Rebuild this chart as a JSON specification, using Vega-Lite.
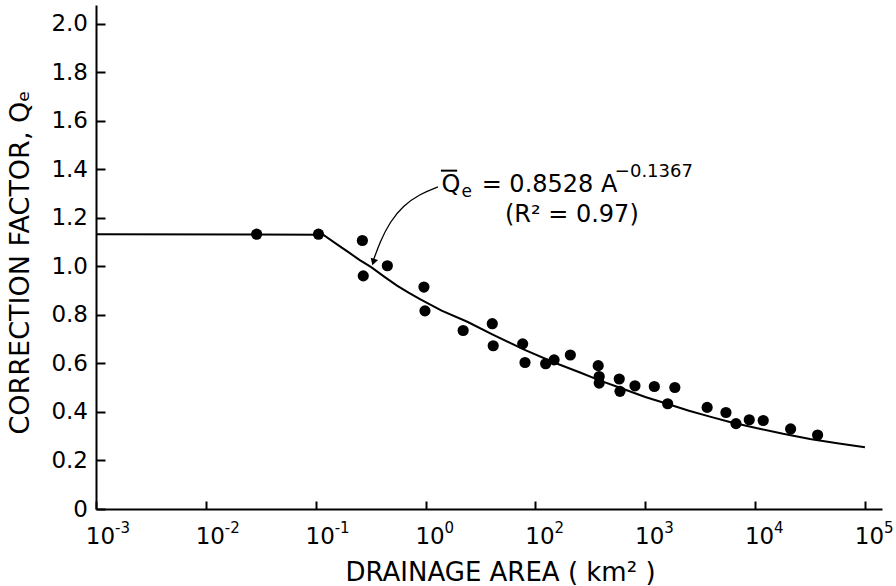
{
  "$schema": "https://vega.github.io/schema/vega-lite/v6.json",
  "width": 786,
  "height": 504,
  "autosize": {"type": "none"},
  "padding": {"left": 96, "top": 5, "right": 14, "bottom": 77},
  "background": "white",
  "config": {
    "view": {"stroke": null},
    "axis": {
      "grid": false,
      "domainColor": "black",
      "domainWidth": 2,
      "tickColor": "black",
      "tickWidth": 2,
      "labelColor": "black",
      "titleColor": "black",
      "labelFont": "DejaVu Sans",
      "titleFont": "DejaVu Sans",
      "titleFontWeight": "normal"
    }
  },
  "datasets": {
    "obs": [
      {"area": 0.029, "qe": 1.133}, {"area": 0.106, "qe": 1.133}, {"area": 0.266, "qe": 1.107},
      {"area": 0.271, "qe": 0.961}, {"area": 0.449, "qe": 1.003}, {"area": 0.967, "qe": 0.915},
      {"area": 0.988, "qe": 0.817}, {"area": 2.2, "qe": 0.736}, {"area": 4.05, "qe": 0.764},
      {"area": 4.13, "qe": 0.673}, {"area": 7.66, "qe": 0.681}, {"area": 8.04, "qe": 0.604},
      {"area": 12.4, "qe": 0.599}, {"area": 14.8, "qe": 0.615}, {"area": 20.8, "qe": 0.635},
      {"area": 37.3, "qe": 0.591}, {"area": 38.1, "qe": 0.546}, {"area": 38.1, "qe": 0.519},
      {"area": 58.0, "qe": 0.536}, {"area": 58.9, "qe": 0.485}, {"area": 80.6, "qe": 0.508},
      {"area": 121, "qe": 0.505}, {"area": 186, "qe": 0.501}, {"area": 160, "qe": 0.434},
      {"area": 366, "qe": 0.419}, {"area": 543, "qe": 0.398}, {"area": 670, "qe": 0.352},
      {"area": 885, "qe": 0.368}, {"area": 1186, "qe": 0.365}, {"area": 2106, "qe": 0.33},
      {"area": 3708, "qe": 0.305}
    ],
    "fit": [
      {"area": 0.001, "qe": 1.133}, {"area": 0.117, "qe": 1.131}, {"area": 0.16, "qe": 1.088},
      {"area": 0.2, "qe": 1.058}, {"area": 0.25, "qe": 1.027}, {"area": 0.32, "qe": 0.997},
      {"area": 0.42, "qe": 0.958}, {"area": 0.55, "qe": 0.921}, {"area": 0.7, "qe": 0.892},
      {"area": 0.89, "qe": 0.865}, {"area": 1.4, "qe": 0.818}, {"area": 2.4, "qe": 0.772},
      {"area": 4.05, "qe": 0.72}, {"area": 8, "qe": 0.656}, {"area": 14.6, "qe": 0.605},
      {"area": 25.5, "qe": 0.563}, {"area": 40, "qe": 0.527}, {"area": 58.9, "qe": 0.5},
      {"area": 100, "qe": 0.462}, {"area": 158, "qe": 0.434}, {"area": 250, "qe": 0.405},
      {"area": 388, "qe": 0.381}, {"area": 600, "qe": 0.358}, {"area": 1000, "qe": 0.335},
      {"area": 1800, "qe": 0.31}, {"area": 3160, "qe": 0.289}, {"area": 5600, "qe": 0.271},
      {"area": 10000, "qe": 0.255}
    ],
    "arrow": [
      {"step": 1, "area": 1.297, "qe": 1.328}, {"step": 2, "area": 0.89, "qe": 1.299},
      {"step": 3, "area": 0.623, "qe": 1.25}, {"step": 4, "area": 0.4745, "qe": 1.184},
      {"step": 5, "area": 0.3847, "qe": 1.102}, {"step": 6, "area": 0.3322, "qe": 1.02}
    ],
    "exponents": [
      {"area": 0.001, "exp": "-3"}, {"area": 0.01, "exp": "-2"}, {"area": 0.1, "exp": "-1"},
      {"area": 1, "exp": "0"}, {"area": 10, "exp": "2"}, {"area": 100, "exp": "3"},
      {"area": 1000, "exp": "4"}, {"area": 10000, "exp": "5"}
    ]
  },
  "layer": [
    {
      "data": {"name": "fit"},
      "mark": {"type": "line", "color": "black", "strokeWidth": 2},
      "encoding": {
        "x": {
          "field": "area", "type": "quantitative",
          "scale": {"type": "log", "domain": [0.001, 14300], "nice": false},
          "axis": {
            "values": [0.001, 0.01, 0.1, 1, 10, 100, 1000, 10000],
            "labelExpr": "'10'",
            "title": "DRAINAGE   AREA  ( km² )",
            "tickSize": -8,
            "labelFontSize": 23,
            "labelAlign": "center",
            "labelOffset": 4,
            "labelBaseline": "alphabetic",
            "labelPadding": 42,
            "labelFlush": false,
            "labelOverlap": false,
            "titleFontSize": 26,
            "titleBaseline": "alphabetic",
            "titleAnchor": "middle",
            "titleX": 404,
            "titleY": 71
          }
        },
        "y": {
          "field": "qe", "type": "quantitative",
          "scale": {"domain": [0, 2.078], "nice": false, "zero": false},
          "axis": {
            "values": [0, 0.2, 0.4, 0.6, 0.8, 1.0, 1.2, 1.4, 1.6, 1.8, 2.0],
            "labelExpr": "datum.value == 0 ? '0' : format(datum.value, '.1f')",
            "title": "CORRECTION   FACTOR,  Qₑ",
            "tickSize": -9,
            "labelFontSize": 23,
            "labelPadding": 17.5,
            "labelFlush": false,
            "labelOverlap": false,
            "titleFontSize": 27,
            "titleAngle": -90,
            "titleAlign": "center",
            "titleBaseline": "alphabetic",
            "titleX": -68,
            "titleY": 257
          }
        }
      }
    },
    {
      "data": {"name": "exponents"},
      "mark": {"type": "text", "align": "left", "baseline": "alphabetic", "font": "DejaVu Sans", "fontSize": 15, "color": "black", "dx": 19},
      "encoding": {
        "x": {"field": "area", "type": "quantitative"},
        "y": {"datum": -0.1, "type": "quantitative"},
        "text": {"field": "exp"}
      }
    },
    {
      "data": {"name": "obs"},
      "mark": {"type": "point", "filled": true, "color": "black", "opacity": 1, "size": 125},
      "encoding": {
        "x": {"field": "area", "type": "quantitative"},
        "y": {"field": "qe", "type": "quantitative"}
      }
    },
    {
      "data": {"name": "arrow"},
      "mark": {"type": "line", "color": "black", "strokeWidth": 1.3, "interpolate": "basis"},
      "encoding": {
        "x": {"field": "area", "type": "quantitative"},
        "y": {"field": "qe", "type": "quantitative"},
        "order": {"field": "step", "type": "quantitative"}
      }
    },
    {
      "data": {"values": [{}]},
      "mark": {"type": "point", "shape": "triangle-down", "filled": true, "color": "black", "opacity": 1, "size": 60, "angle": 18},
      "encoding": {
        "x": {"datum": 0.335, "type": "quantitative"},
        "y": {"datum": 1.018, "type": "quantitative"}
      }
    },
    {
      "data": {"values": [{}]},
      "mark": {"type": "text", "text": "Q", "align": "left", "baseline": "alphabetic", "font": "DejaVu Sans", "fontSize": 24, "color": "black"},
      "encoding": {
        "x": {"datum": 1.40, "type": "quantitative"},
        "y": {"datum": 1.309, "type": "quantitative"}
      }
    },
    {
      "data": {"values": [{}]},
      "mark": {"type": "rule", "color": "black", "strokeWidth": 2},
      "encoding": {
        "x": {"datum": 1.38, "type": "quantitative"},
        "x2": {"datum": 1.94},
        "y": {"datum": 1.395, "type": "quantitative"}
      }
    },
    {
      "data": {"values": [{}]},
      "mark": {"type": "text", "text": "e", "align": "left", "baseline": "alphabetic", "font": "DejaVu Sans", "fontSize": 17, "color": "black"},
      "encoding": {
        "x": {"datum": 2.12, "type": "quantitative"},
        "y": {"datum": 1.287, "type": "quantitative"}
      }
    },
    {
      "data": {"values": [{}]},
      "mark": {"type": "text", "text": "= 0.8528  A", "align": "left", "baseline": "alphabetic", "font": "DejaVu Sans", "fontSize": 24, "color": "black"},
      "encoding": {
        "x": {"datum": 3.24, "type": "quantitative"},
        "y": {"datum": 1.309, "type": "quantitative"}
      }
    },
    {
      "data": {"values": [{}]},
      "mark": {"type": "text", "text": "−0.1367", "align": "left", "baseline": "alphabetic", "font": "DejaVu Sans", "fontSize": 18, "color": "black"},
      "encoding": {
        "x": {"datum": 52.9, "type": "quantitative"},
        "y": {"datum": 1.369, "type": "quantitative"}
      }
    },
    {
      "data": {"values": [{}]},
      "mark": {"type": "text", "text": "(R² = 0.97)", "align": "left", "baseline": "alphabetic", "font": "DejaVu Sans", "fontSize": 24, "color": "black"},
      "encoding": {
        "x": {"datum": 5.28, "type": "quantitative"},
        "y": {"datum": 1.185, "type": "quantitative"}
      }
    }
  ]
}
